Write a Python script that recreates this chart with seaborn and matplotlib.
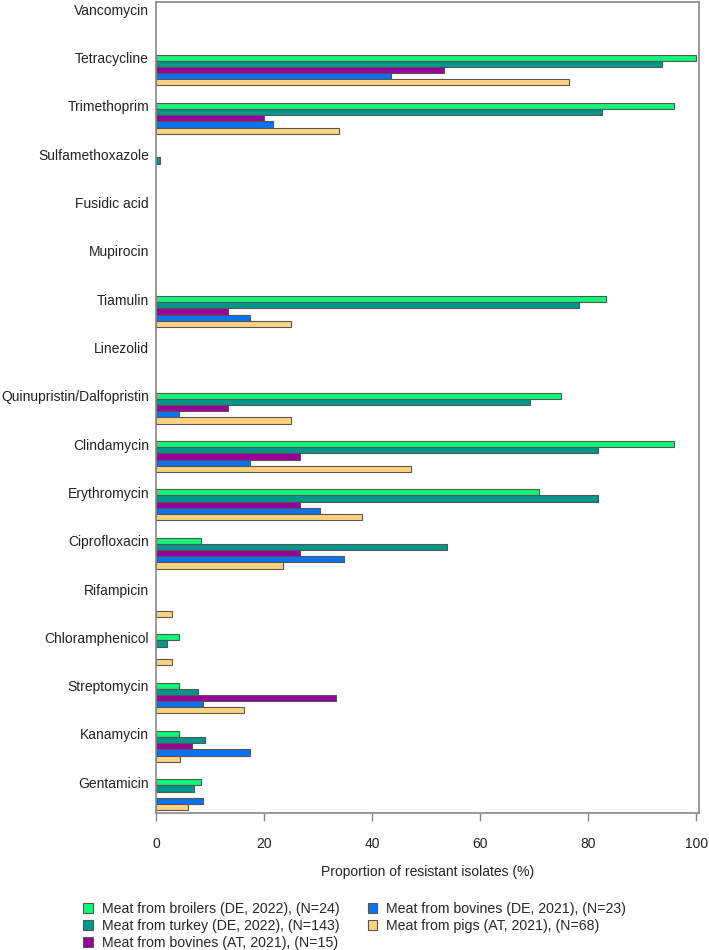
import numpy as np
import pandas as pd
import seaborn as sns
import matplotlib.pyplot as plt
from matplotlib.patches import Patch

# antibiotics, top to bottom
antibiotics = ["Vancomycin", "Tetracycline", "Trimethoprim", "Sulfamethoxazole",
               "Fusidic acid", "Mupirocin", "Tiamulin", "Linezolid",
               "Quinupristin/Dalfopristin", "Clindamycin", "Erythromycin",
               "Ciprofloxacin", "Rifampicin", "Chloramphenicol", "Streptomycin",
               "Kanamycin", "Gentamicin"]

sources = ["Meat from broilers (DE, 2022), (N=24)",
           "Meat from turkey (DE, 2022), (N=143)",
           "Meat from bovines (AT, 2021), (N=15)",
           "Meat from bovines (DE, 2021), (N=23)",
           "Meat from pigs (AT, 2021), (N=68)"]

# proportion of resistant isolates (%)
broilers_de = [0, 100, 95.8, 0, 0, 0, 83.3, 0, 75.0, 95.8, 70.8, 8.3, 0, 4.2, 4.2, 4.2, 8.3]
turkey_de = [0, 93.7, 82.5, 0.7, 0, 0, 78.3, 0, 69.2, 81.8, 81.8, 53.8, 0, 2.1, 7.7, 9.1, 7.0]
bovines_at = [0, 53.3, 20.0, 0, 0, 0, 13.3, 0, 13.3, 26.7, 26.7, 26.7, 0, 0, 33.3, 6.7, 0]
bovines_de = [0, 43.5, 21.7, 0, 0, 0, 17.4, 0, 4.3, 17.4, 30.4, 34.8, 0, 0, 8.7, 17.4, 8.7]
pigs_at = [0, 76.5, 33.8, 0, 0, 0, 25.0, 0, 25.0, 47.1, 38.2, 23.5, 2.9, 2.9, 16.2, 4.4, 5.9]

colors = ["#14F57A", "#00968A", "#990099", "#0A74F0", "#FFD27F"]

df = pd.DataFrame({
    "antibiotic": antibiotics * 5,
    "source": np.repeat(sources, len(antibiotics)),
    "value": broilers_de + turkey_de + bovines_at + bovines_de + pigs_at,
})

sns.set_theme(style="white")
plt.rcParams["font.family"] = ["Liberation Sans", "DejaVu Sans"]

fig = plt.figure(figsize=(7.09, 9.5), dpi=100)
ax = fig.add_axes([0.22, 0.144, 0.766, 0.854])

sns.barplot(data=df, y="antibiotic", x="value", hue="source", order=antibiotics,
            hue_order=sources, palette=colors, saturation=1, orient="h",
            width=0.64, edgecolor="#555555", linewidth=0.8, legend=False, ax=ax)

# hide zero-length bars
for p in ax.patches:
    if p.get_width() == 0:
        p.set_visible(False)

# labels sit next to the first bar of each group
ax.set_yticks(np.arange(len(antibiotics)) - 0.256)
ax.set_yticklabels(antibiotics, fontsize=10, color="#222222")
ax.set_ylim(16.385, -0.41)
ax.set_ylabel("")

ax.set_xlim(0, 100.5)
ax.set_xticks([0, 20, 40, 60, 80, 100])
ax.tick_params(axis="x", length=6, width=1, color="#888888", labelsize=10,
               labelcolor="#222222", pad=11, direction="out", bottom=True)
ax.tick_params(axis="y", length=0, pad=5)
ax.set_xlabel("Proportion of resistant isolates (%)", fontsize=10,
              color="#222222", labelpad=10)

for s in ax.spines.values():
    s.set_color("#888888")
    s.set_linewidth(1.2)

handles = [Patch(facecolor=c, edgecolor="#555555", linewidth=0.8) for c in colors]
fig.legend(handles, sources, loc="upper center", bbox_to_anchor=(0.5, 0.058),
           ncol=2, frameon=False, fontsize=10.2, handlelength=0.7,
           handleheight=0.7, handletextpad=0.6, columnspacing=2.0,
           labelspacing=0.2, borderpad=0)

plt.savefig("out.png", dpi=100)
